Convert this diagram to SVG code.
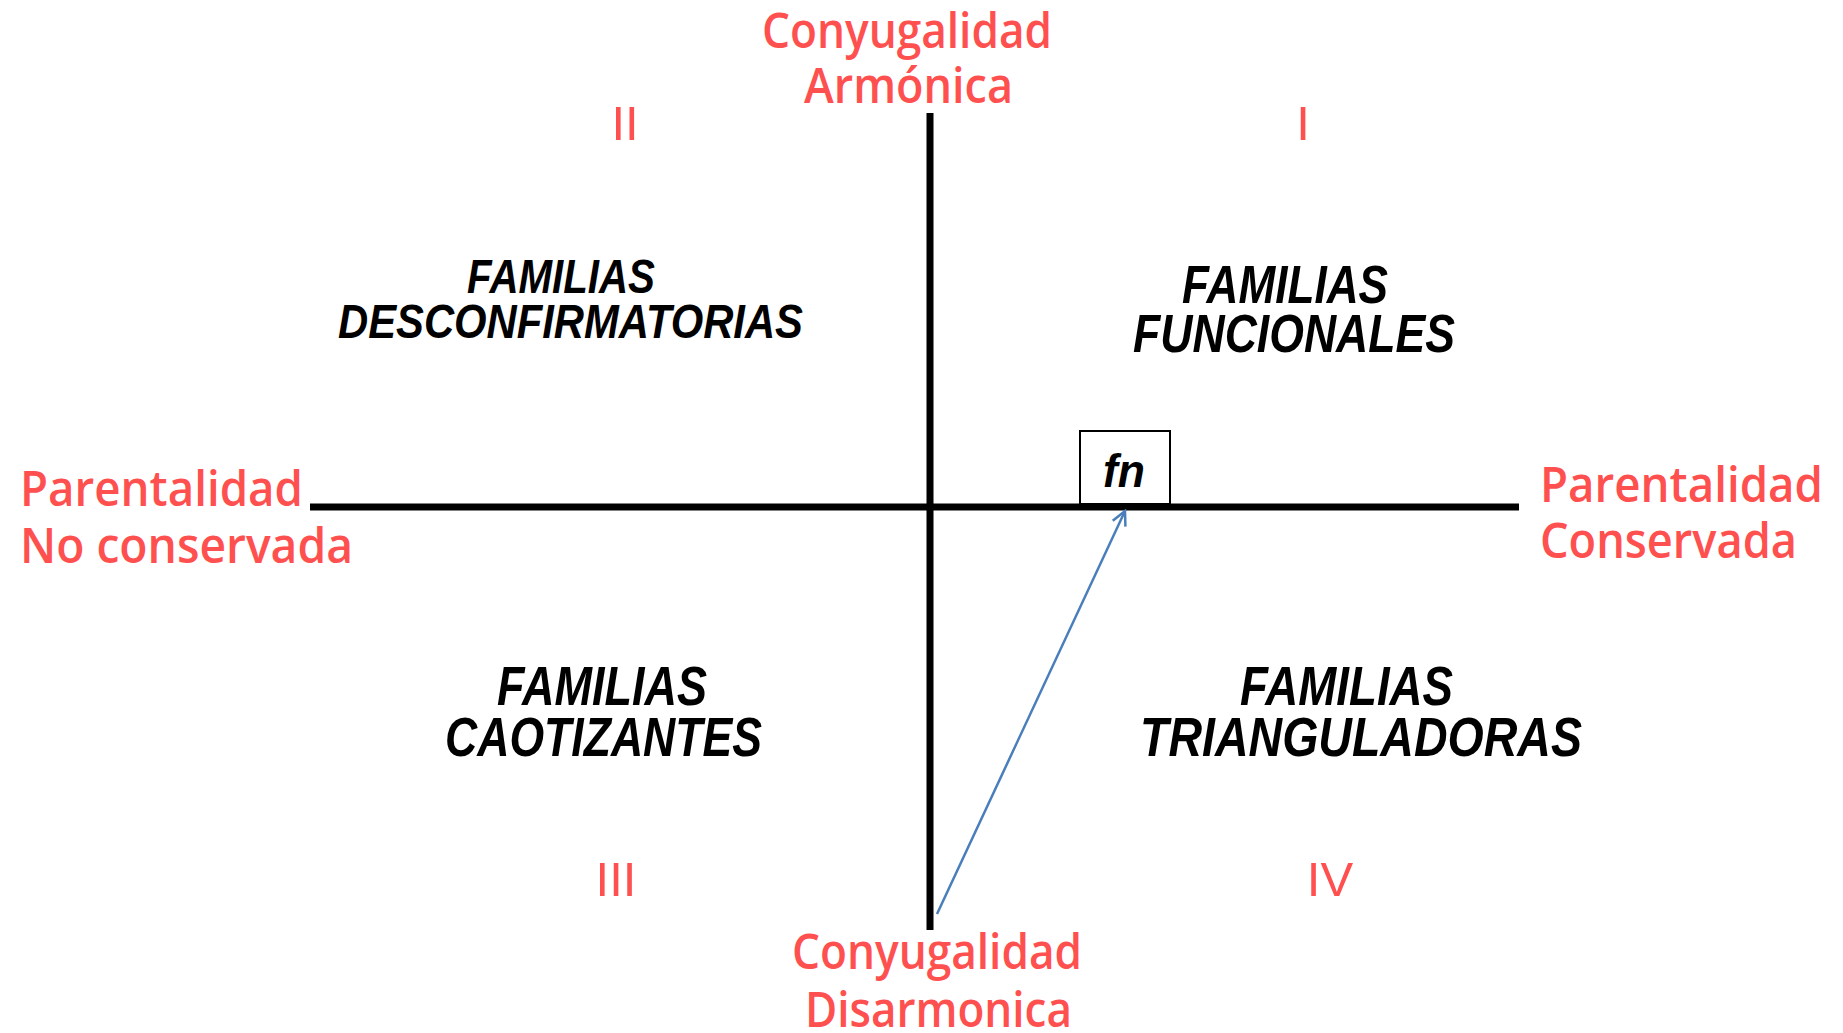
<svg xmlns="http://www.w3.org/2000/svg" width="1843" height="1033" viewBox="0 0 1843 1033">
<defs>
<style>
.red{font-family:"Comic Sans MS","Open Sans","Liberation Sans",sans-serif;font-weight:600;fill:#FF5050;font-size:49px}
.num{font-family:"Liberation Sans",Arial,sans-serif;fill:#FF5050;font-size:49px;text-anchor:middle}
.fam{font-family:"Liberation Sans",Arial,sans-serif;font-weight:bold;font-style:italic;fill:#000}
.axis{stroke:#000;stroke-width:7;fill:none}
</style>
<marker id="open" viewBox="0 0 20 20" refX="18" refY="10" markerWidth="20" markerHeight="20" markerUnits="userSpaceOnUse" orient="auto">
<path d="M4,3 L18,10 L4,17" fill="none" stroke="#4A7EBB" stroke-width="2.5"/>
</marker>
</defs>
<rect width="1843" height="1033" fill="#fff"/>
<g id="axes">
<line class="axis" x1="930" y1="113" x2="930" y2="930"/>
<line class="axis" x1="310" y1="507" x2="1519" y2="507"/>
</g>
<g id="label-top">
<text class="red" x="762" y="48" textLength="290" lengthAdjust="spacingAndGlyphs">Conyugalidad</text>
<text class="red" x="804" y="103" textLength="209" lengthAdjust="spacingAndGlyphs">Armónica</text>
</g>
<g id="label-left">
<text class="red" x="20" y="506" textLength="283" lengthAdjust="spacingAndGlyphs">Parentalidad</text>
<text class="red" x="20" y="563" textLength="333" lengthAdjust="spacingAndGlyphs">No conservada</text>
</g>
<g id="label-right">
<text class="red" x="1540" y="502" textLength="283" lengthAdjust="spacingAndGlyphs">Parentalidad</text>
<text class="red" x="1540" y="558" textLength="257" lengthAdjust="spacingAndGlyphs">Conservada</text>
</g>
<g id="label-bottom">
<text class="red" x="792" y="969" textLength="290" lengthAdjust="spacingAndGlyphs">Conyugalidad</text>
<text class="red" x="805" y="1027" textLength="267" lengthAdjust="spacingAndGlyphs">Disarmonica</text>
</g>
<g id="numerals">
<text class="num" x="625" y="140">II</text>
<text class="num" x="1303" y="140">I</text>
<text class="num" x="616" y="896">III</text>
<text class="num" x="1330" y="896">IV</text>
</g>
<g id="q2">
<text class="fam" x="467" y="293" font-size="49" textLength="188" lengthAdjust="spacingAndGlyphs">FAMILIAS</text>
<text class="fam" x="338" y="338" font-size="49" textLength="465" lengthAdjust="spacingAndGlyphs">DESCONFIRMATORIAS</text>
</g>
<g id="q1">
<text class="fam" x="1182" y="303" font-size="54" textLength="206" lengthAdjust="spacingAndGlyphs">FAMILIAS</text>
<text class="fam" x="1133" y="352" font-size="54" textLength="322" lengthAdjust="spacingAndGlyphs">FUNCIONALES</text>
</g>
<g id="q3">
<text class="fam" x="497" y="705" font-size="55" textLength="210" lengthAdjust="spacingAndGlyphs">FAMILIAS</text>
<text class="fam" x="445" y="756" font-size="55" textLength="317" lengthAdjust="spacingAndGlyphs">CAOTIZANTES</text>
</g>
<g id="q4">
<text class="fam" x="1240" y="705" font-size="55" textLength="213" lengthAdjust="spacingAndGlyphs">FAMILIAS</text>
<text class="fam" x="1140" y="756" font-size="55" textLength="442" lengthAdjust="spacingAndGlyphs">TRIANGULADORAS</text>
</g>
<g id="fn">
<rect x="1080" y="431" width="90" height="73" fill="#fff" stroke="#000" stroke-width="2"/>
<text class="fam" x="1103" y="487" font-size="47" textLength="42" lengthAdjust="spacingAndGlyphs">fn</text>
</g>
<g id="connectors">
<line x1="937" y1="914" x2="1125" y2="511" stroke="#4A7EBB" stroke-width="2.5" marker-end="url(#open)"/>
</g>
</svg>
